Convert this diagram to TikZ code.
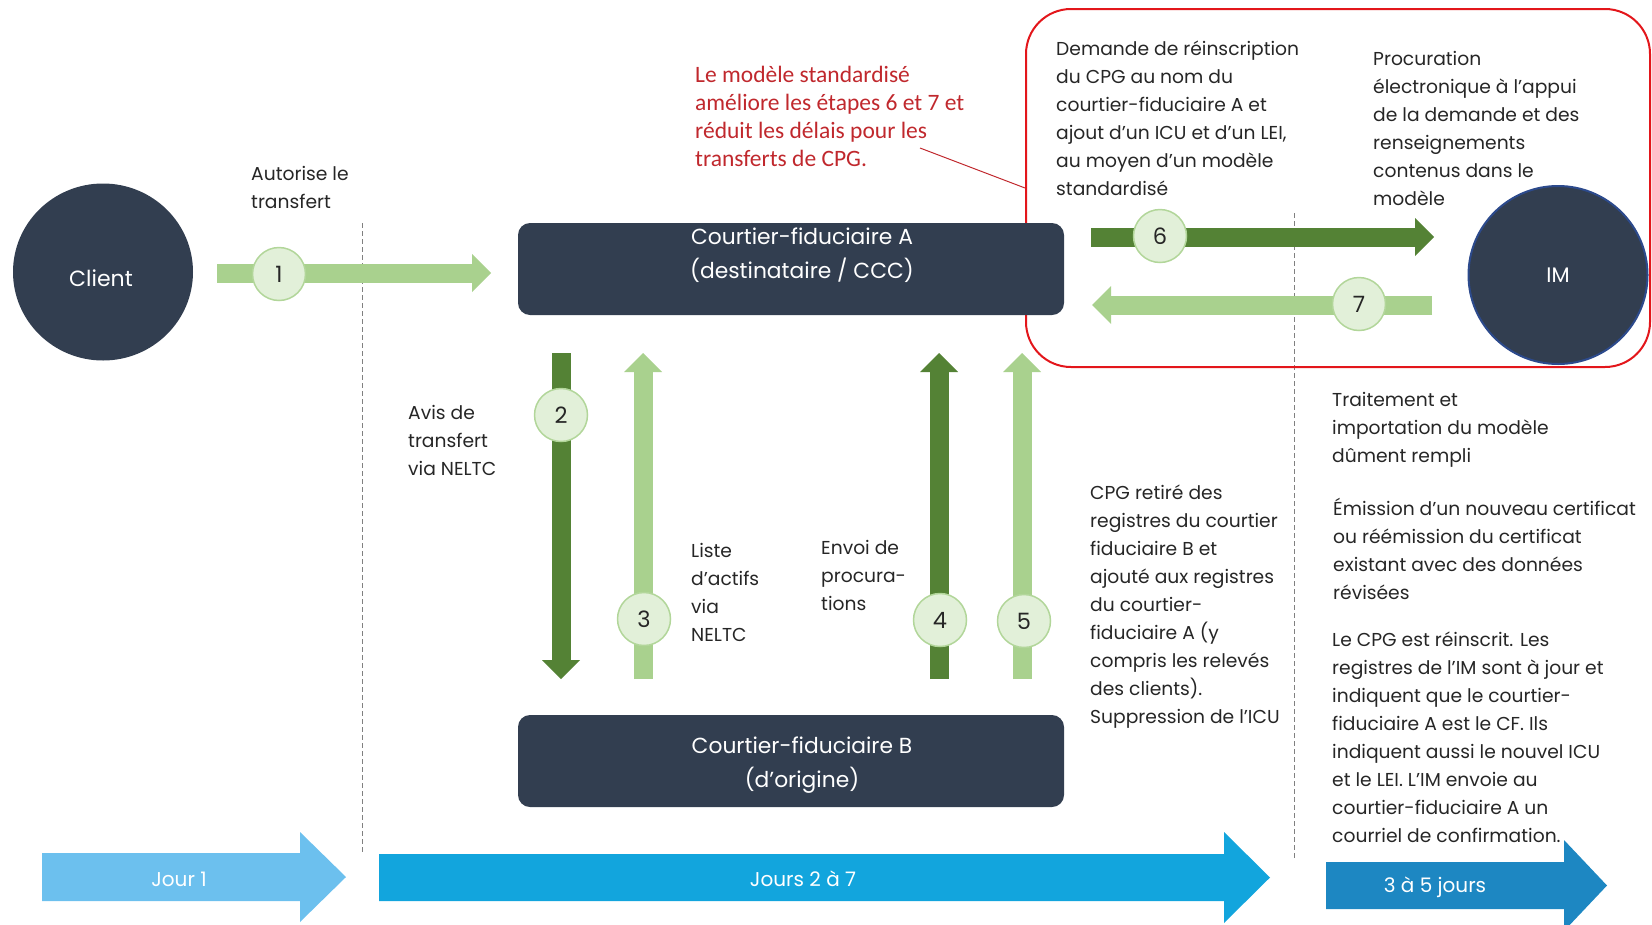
\documentclass[tikz,border=0pt]{standalone}
\usepackage{fontspec}
\setmainfont{Poppins}
\newfontfamily\redfont{Carlito}
\usetikzlibrary{arrows.meta,shapes.geometric}
\definecolor{navy}{HTML}{323E50}
\definecolor{dkgreen}{HTML}{548235}
\definecolor{ltgreen}{HTML}{A9D18E}
\definecolor{circfill}{HTML}{E2F0D9}
\definecolor{circline}{HTML}{B2D69A}
\definecolor{blueA}{HTML}{6CC0EE}
\definecolor{blueB}{HTML}{12A5DD}
\definecolor{blueC}{HTML}{1D87C2}
\definecolor{redbox}{HTML}{E3161B}
\definecolor{redtext}{HTML}{C0282D}
\definecolor{txt}{HTML}{262626}
\definecolor{imblue}{HTML}{2C4A8C}
\newcommand{\fl}{\rule{0pt}{22pt}}
\tikzset{
  lbl/.style={anchor=north west, inner sep=0pt, align=left, text=txt, font=\fontsize{18.7}{28}\selectfont},
  redlbl/.style={anchor=north west, inner sep=0pt, align=left, text=redtext, font=\redfont\fontsize{23.5}{28}\selectfont},
  darkbox/.style={fill=navy, rounded corners=12pt, minimum width=546pt, minimum height=92pt, inner sep=0pt},
  boxtext/.style={text=white, align=center, inner sep=0pt, font=\fontsize{21.8}{34}\selectfont},
  flowdk/.style={draw=dkgreen, line width=19pt, -{Triangle[length=19pt, width=38pt, line width=0pt]}},
  flowlt/.style={draw=ltgreen, line width=19pt, -{Triangle[length=19pt, width=38pt, line width=0pt]}},
  stepnum/.style={circle, fill=circfill, draw=circline, line width=1.5pt, minimum size=53pt, inner sep=0pt, text=txt, font=\fontsize{22.5}{26}\selectfont},
  dashline/.style={draw=gray, line width=0.8pt, dash pattern=on 5pt off 3pt},
  daytext/.style={text=white, inner sep=0pt, font=\fontsize{20}{24}\selectfont},
}
\begin{document}
\begin{tikzpicture}[x=1pt,y=-1pt]
\useasboundingbox (0,0) rectangle (1652,924);
% dashed separators
\coordinate (d1t) at (362,223); \coordinate (d1b) at (362,853);
\coordinate (d2t) at (1294,213); \coordinate (d2b) at (1294,860);
\draw[dashline] (d1t) -- (d1b);
\draw[dashline] (d2t) -- (d2b);
% highlight box
\node[draw=redbox, line width=2pt, rounded corners=45pt, minimum width=624pt, minimum height=358pt, inner sep=0pt] (hl) at (1338,188) {};
% actors
\node[ellipse, fill=navy, minimum width=180pt, minimum height=177pt, inner sep=0pt] (client) at (103,272) {};
\node[text=white, inner sep=0pt, font=\fontsize{22}{26}\selectfont] (clientt) at (101,278) {Client};
\node[ellipse, fill=navy, draw=imblue, line width=2pt, minimum width=179pt, minimum height=178pt, inner sep=0pt, text=white, font=\fontsize{21}{26}\selectfont] (im) at (1558,275) {IM};
\node[darkbox] (boxA) at (791,269) {};
\node[boxtext] (boxAt) at (802,255) {Courtier-fiduciaire A\\(destinataire / CCC)};
\node[darkbox] (boxB) at (791,761) {};
\node[boxtext] (boxBt) at (802,765) {Courtier-fiduciaire B\\(d’origine)};
% flow arrows
\coordinate (a1s) at (217,273); \coordinate (a1e) at (491,273);
\draw[flowlt] (a1s) -- (a1e);
\node[stepnum] (n1) at (279,274) {1};
\coordinate (a2s) at (561,353); \coordinate (a2e) at (561,679);
\draw[flowdk] (a2s) -- (a2e);
\node[stepnum] (n2) at (561,415) {2};
\coordinate (a3s) at (643,679); \coordinate (a3e) at (643,353);
\draw[flowlt] (a3s) -- (a3e);
\node[stepnum] (n3) at (644,619) {3};
\coordinate (a4s) at (939,679); \coordinate (a4e) at (939,353);
\draw[flowdk] (a4s) -- (a4e);
\node[stepnum] (n4) at (940,620) {4};
\coordinate (a5s) at (1022,679); \coordinate (a5e) at (1022,353);
\draw[flowlt] (a5s) -- (a5e);
\node[stepnum] (n5) at (1024,621) {5};
\coordinate (a6s) at (1091,237); \coordinate (a6e) at (1434,237);
\draw[flowdk] (a6s) -- (a6e);
\node[stepnum] (n6) at (1160,236) {6};
\coordinate (a7s) at (1432,305); \coordinate (a7e) at (1092,305);
\draw[flowlt] (a7s) -- (a7e);
\node[stepnum] (n7) at (1359,304) {7};
% labels
\node[lbl] (tAut) at (251,158) {\fl Autorise le\\transfert};
\node[lbl] (tAvis) at (408,397) {\fl Avis de\\transfert\\via NELTC};
\node[lbl] (tListe) at (691,535) {\fl Liste\\d’actifs\\via\\NELTC};
\node[lbl] (tEnvoi) at (821,532) {\fl Envoi de\\procura-\\tions};
\node[lbl] (tCPG) at (1090,477) {\fl CPG retiré des\\registres du courtier\\fiduciaire B et\\ajouté aux registres\\du courtier-\\fiduciaire A (y\\compris les relevés\\des clients).\\Suppression de l’ICU};
\node[lbl] (tDem) at (1056,33) {\fl Demande de réinscription\\du CPG au nom du\\courtier-fiduciaire A et\\ajout d’un ICU et d’un LEI,\\au moyen d’un modèle\\standardisé};
\node[lbl] (tProc) at (1373,43) {\fl Procuration\\électronique à l’appui\\de la demande et des\\renseignements\\contenus dans le\\modèle};
\node[lbl] (tTrait) at (1332,384) {\fl Traitement et\\importation du modèle\\dûment rempli};
\node[lbl] (tEmis) at (1333,493) {\fl Émission d’un nouveau certificat\\ou réémission du certificat\\existant avec des données\\révisées};
\node[lbl] (tLe) at (1332,624) {\fl Le CPG est réinscrit. Les\\registres de l’IM sont à jour et\\indiquent que le courtier-\\fiduciaire A est le CF. Ils\\indiquent aussi le nouvel ICU\\et le LEI. L’IM envoie au\\courtier-fiduciaire A un\\courriel de confirmation.};
\node[redlbl] (tRed) at (695,60) {\fl Le modèle standardisé\\améliore les étapes 6 et 7 et\\réduit les délais pour les\\transferts de CPG.};
\coordinate (redpt) at (920,148);
\draw[redtext, line width=1pt] (redpt) -- (hl.west);
% day arrows
\fill[blueA] (42,853) -- (300,853) -- (300,832) -- (346,877) -- (300,922) -- (300,901) -- (42,901) -- cycle;
\node[daytext] (j1) at (179,879) {Jour 1};
\fill[blueB] (379,854) -- (1224,854) -- (1224,832) -- (1270,877.5) -- (1224,923) -- (1224,901) -- (379,901) -- cycle;
\node[daytext] (j2) at (803,879) {Jours 2 à 7};
\fill[blueC] (1326,862) -- (1564,862) -- (1564,840) -- (1607,885.5) -- (1564,931) -- (1564,909) -- (1326,909) -- cycle;
\node[daytext] (j3) at (1435,887) {3 à 5 jours};
\end{tikzpicture}
\end{document}
